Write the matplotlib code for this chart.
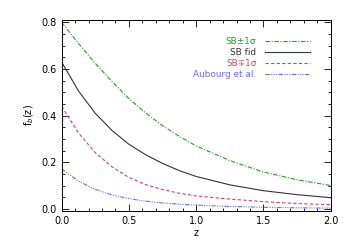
import numpy as np
import matplotlib
matplotlib.use("Agg")
import matplotlib.pyplot as plt
from matplotlib.ticker import MultipleLocator

# redshift grid and curves
z = [0.0, 0.125, 0.25, 0.375, 0.5, 0.625, 0.75, 0.875, 1.0, 1.25, 1.5, 1.75, 2.0]
sb_plus = [0.80, 0.71, 0.624, 0.546, 0.473, 0.411, 0.357, 0.311, 0.27, 0.207, 0.158, 0.125, 0.10]
sb_fid = [0.63, 0.506, 0.41, 0.336, 0.277, 0.232, 0.195, 0.164, 0.139, 0.103, 0.078, 0.061, 0.048]
sb_minus = [0.44, 0.326, 0.241, 0.18, 0.135, 0.104, 0.083, 0.067, 0.0555, 0.042, 0.031, 0.023, 0.018]
aubourg = [0.172, 0.119, 0.084, 0.060, 0.044, 0.033, 0.0254, 0.020, 0.016, 0.0105, 0.007, 0.0047, 0.0032]

labels = ["SB\u00b11\u03c3", "SB fid", "SB\u22131\u03c3", "Aubourg et al."]
colors = ["#22a022", "#333333", "#d8407a", "#6a6aff"]

plt.rcParams['font.family'] = ['DejaVu Sans']
fig = plt.figure(figsize=(3.5, 2.5), dpi=100)
ax = fig.add_axes([0.176, 0.157, 0.769, 0.765])

ax.plot(z, sb_plus, color=colors[0], lw=0.8, dashes=(4, 1.5, 1, 1.5), label=labels[0])
ax.plot(z, sb_fid, color=colors[1], lw=0.8, label=labels[1])
ax.plot(z, sb_minus, color=colors[2], lw=0.8, dashes=(3, 2), label=labels[2])
ax.plot(z, aubourg, color=colors[3], lw=0.8,
        dashes=(4, 1.2, 1, 1.2, 1, 1.2, 1, 1.2), label=labels[3])

ax.set_xlim(0, 2.0)
ax.set_ylim(-0.008, 0.812)
ax.xaxis.set_major_locator(MultipleLocator(0.5))
ax.xaxis.set_minor_locator(MultipleLocator(0.1))
ax.yaxis.set_major_locator(MultipleLocator(0.2))
ax.yaxis.set_minor_locator(MultipleLocator(0.05))
ax.xaxis.set_major_formatter(plt.FormatStrFormatter('%.1f'))
ax.yaxis.set_major_formatter(plt.FormatStrFormatter('%.1f'))
ax.tick_params(which='both', direction='in', top=True, right=True, labelsize=7, width=0.6)
ax.tick_params(which='major', length=5)
ax.tick_params(which='minor', length=2.5)
for s in ax.spines.values():
    s.set_linewidth(0.7)

ax.set_xlabel("z", fontsize=7, labelpad=2)
ax.set_ylabel("f$_b$(z)", fontsize=7, labelpad=4)

leg = ax.legend(loc='upper right', bbox_to_anchor=(0.938, 0.93), frameon=False,
                markerfirst=False, fontsize=6.4, handlelength=5.0, handletextpad=1.0,
                labelspacing=0.22, borderpad=0)
for t, c in zip(leg.get_texts(), colors):
    t.set_color(c)

fig.savefig("out.png", dpi=100)
